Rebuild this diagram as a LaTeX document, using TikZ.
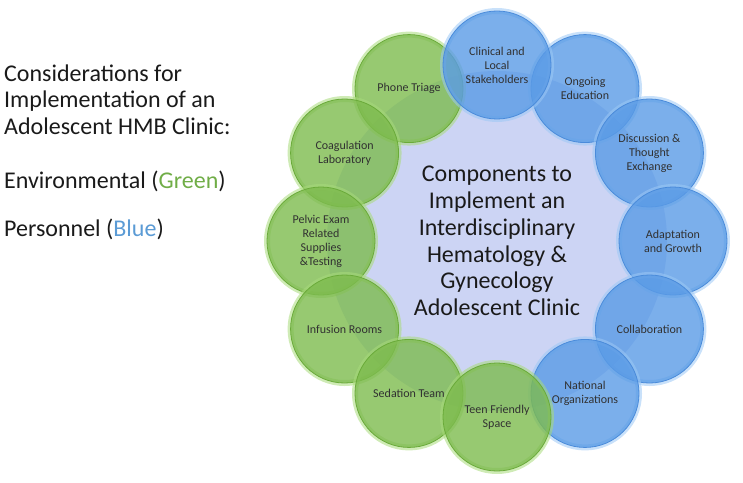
\documentclass[tikz,border=0pt]{standalone}
\usepackage{fontspec}
\setmainfont{Carlito}
\usepackage{xcolor}
\definecolor{cEnv}{HTML}{7DBB4E}
\definecolor{cEnvLine}{HTML}{6AAA3A}
\definecolor{cEnvGlow}{HTML}{A8DB7A}
\definecolor{cPers}{HTML}{5A9BE6}
\definecolor{cPersLine}{HTML}{4A8BDA}
\definecolor{cPersGlow}{HTML}{9CC8F5}
\definecolor{cCore}{HTML}{CCD4F4}
\definecolor{cLegGreen}{HTML}{70AD47}
\definecolor{cLegBlue}{HTML}{5B9BD5}
\definecolor{cInk}{HTML}{1A1A1A}
\usepackage{tikz}
\usetikzlibrary{positioning}
\tikzset{
  node-core/.style={circle,fill=cCore,minimum size=340pt,inner sep=0pt,
    align=center,text=cInk,font=\fontsize{24}{26.7}\selectfont},
  node-ring/.style={circle,minimum size=108pt,inner sep=0pt,line width=0.8pt,
    fill opacity=0.8,text opacity=1,align=center,text=cInk!90,
    font=\fontsize{12}{14}\selectfont},
  node-env/.style={node-ring,fill=cEnv,draw=cEnvLine,
    preaction={draw=cEnvGlow,line width=6pt,draw opacity=0.55}},
  node-pers/.style={node-ring,fill=cPers,draw=cPersLine,
    preaction={draw=cPersGlow,line width=6pt,draw opacity=0.55}},
  text-legend/.style={inner sep=0pt,align=left,text=cInk,
    font=\fontsize{24}{26.5}\selectfont},
}

\begin{document}
\begin{tikzpicture}
  \useasboundingbox (-497pt,-241pt) rectangle (246pt,241pt);
  % legend on the left
  \node[text-legend,anchor=base west] (title) at (-493pt,107pt)
    {Considerations for\\Implementation of an\\Adolescent HMB Clinic:};
  \node[text-legend,anchor=base west] (env)  at (-493pt,53pt)
    {Environmental (\textcolor{cLegGreen}{Green})};
  \node[text-legend,anchor=base west] (pers) at (-493pt,5pt)
    {Personnel (\textcolor{cLegBlue}{Blue})};
  % centre
  \node[node-core] (core) at (0,0) {Components to\\Implement an\\Interdisciplinary\\Hematology \&\\Gynecology\\Adolescent Clinic};
  % ring: personnel (blue) and environment (green)
  \node[node-pers] (ongoing)  at (60:176pt)   {Ongoing\\Education};
  \node[node-pers] (discuss)  at (30:176pt)   {Discussion \&\\Thought\\Exchange};
  \node[node-pers] (adapt)    at (0:176pt)    {Adaptation\\and Growth};
  \node[node-pers] (collab)   at (-30:176pt)  {Collaboration};
  \node[node-pers] (national) at (-60:176pt)  {National\\Organizations};
  \node[node-env]  (phone)    at (120:176pt)  {Phone Triage};
  \node[node-env]  (coag)     at (150:176pt)  {Coagulation\\Laboratory};
  \node[node-env]  (pelvic)   at (180:176pt)  {Pelvic Exam\\Related\\Supplies\\\&Testing};
  \node[node-env]  (infusion) at (-150:176pt) {Infusion Rooms};
  \node[node-env]  (sedation) at (-120:176pt) {Sedation Team};
  \node[node-env]  (teen)     at (-90:176pt)  {Teen Friendly\\Space};
  \node[node-pers] (clinical) at (90:176pt)   {Clinical and\\Local\\Stakeholders};
\end{tikzpicture}
\end{document}
